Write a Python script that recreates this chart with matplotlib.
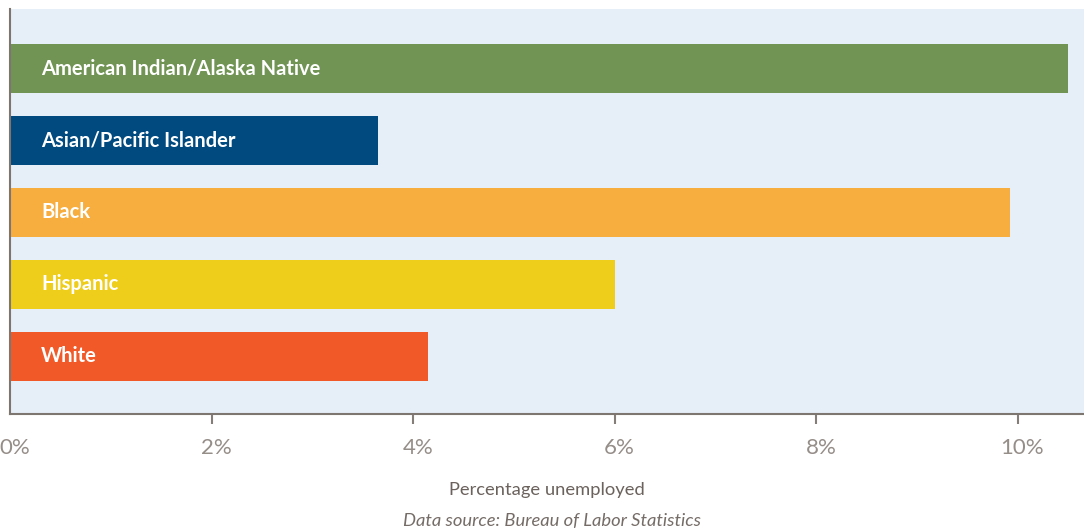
import matplotlib
matplotlib.use("Agg")
import matplotlib.pyplot as plt
import matplotlib.transforms as mtransforms

groups = ["American Indian/Alaska Native", "Asian/Pacific Islander", "Black", "Hispanic", "White"]
unemployment = [10.5, 3.65, 9.93, 6.0, 4.15]
bar_colors = ["#719455", "#004a80", "#f7ae3e", "#efcd1b", "#f15a28"]
tick_values = [0, 2, 4, 6, 8, 10]
tick_labels = ["0%", "2%", "4%", "6%", "8%", "10%"]

plt.rcParams["font.family"] = ["Lato", "DejaVu Sans"]

fig = plt.figure(figsize=(10.84, 5.31), dpi=100)
ax = fig.add_axes([10 / 1084, (531 - 414) / 531, 1074 / 1084, 405 / 531])
ax.set_facecolor("#e6eef8")

pos = list(range(len(groups)))
ax.barh(pos, unemployment, height=0.68, color=bar_colors, zorder=2)
for i, name in enumerate(groups):
    ax.text(0.31, i, name, color="white", fontsize=14.5, fontweight="bold",
            va="center", ha="left", zorder=3)

ax.set_xlim(0, 10.66)
ax.set_ylim(4.80, -0.826)
ax.set_yticks([])

ax.set_xticks(tick_values)
ax.set_xticklabels(tick_labels)
ax.tick_params(axis="x", length=7, width=1.5, color="#857d78", pad=10,
               labelsize=16, labelcolor="#958d88")
ax.xaxis.get_major_ticks()[0].tick1line.set_visible(False)
offset = mtransforms.ScaledTranslation(5 / 100, 0, fig.dpi_scale_trans)
for lbl in ax.get_xticklabels():
    lbl.set_transform(lbl.get_transform() + offset)

for side in ["top", "right"]:
    ax.spines[side].set_visible(False)
for side in ["left", "bottom"]:
    ax.spines[side].set_color("#7d7570")
    ax.spines[side].set_linewidth(1.5)

fig.text(547 / 1084, 1 - 490 / 531, "Percentage unemployed", ha="center", va="center",
         fontsize=13.2, color="#6b625d")
fig.text(552 / 1084, 1 - 521 / 531, "Data source: Bureau of Labor Statistics", ha="center",
         va="center", fontsize=13.2, style="italic", color="#756c67")

fig.savefig("out.png", dpi=100)
